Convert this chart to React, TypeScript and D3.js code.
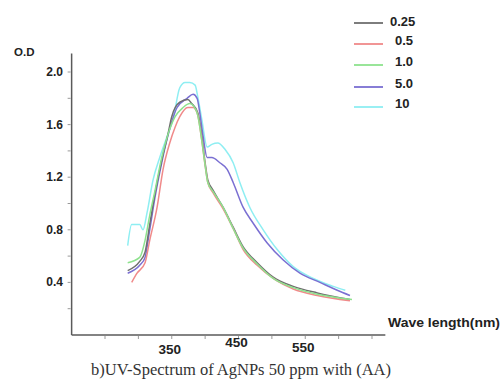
import React from "react";
import * as d3 from "d3";

type Pt = [number, number];

const seriesNames = ["0.25", "0.5", "1.0", "5.0", "10"];
const seriesColors = ["#6f6f6f", "#f08a8a", "#8ee28e", "#7a6fd2", "#8eeef2"];

const s025: Pt[] = [
  [284, 0.49], [302, 0.56], [310, 0.63], [317, 0.84], [325, 1.08], [335, 1.33], [344, 1.52],
  [350, 1.66], [362, 1.77], [374, 1.79], [380, 1.76], [389, 1.69], [395, 1.51], [400, 1.31],
  [404, 1.18], [412, 1.1], [427, 0.97], [442, 0.82], [457, 0.67], [478, 0.55], [502, 0.44],
  [532, 0.37], [568, 0.32], [617, 0.27],
];
const s05: Pt[] = [
  [290, 0.4], [298, 0.47], [310, 0.55], [317, 0.72], [328, 0.97], [337, 1.26], [347, 1.46],
  [355, 1.58], [362, 1.66], [374, 1.73], [382, 1.73], [388, 1.69], [395, 1.48], [400, 1.29],
  [404, 1.16], [412, 1.08], [427, 0.96], [442, 0.81], [457, 0.65], [478, 0.53], [502, 0.43],
  [532, 0.35], [568, 0.3], [617, 0.26],
];
const s10: Pt[] = [
  [284, 0.55], [302, 0.59], [310, 0.72], [317, 0.91], [325, 1.1], [335, 1.35], [344, 1.52],
  [355, 1.66], [367, 1.73], [377, 1.76], [383, 1.74], [389, 1.67], [395, 1.48], [400, 1.29],
  [404, 1.16], [412, 1.09], [427, 0.97], [442, 0.81], [457, 0.66], [478, 0.54], [502, 0.43],
  [532, 0.36], [568, 0.31], [620, 0.27],
];
const s50: Pt[] = [
  [284, 0.47], [302, 0.53], [310, 0.59], [317, 0.8], [325, 1.05], [335, 1.31], [344, 1.51],
  [358, 1.73], [373, 1.8], [382, 1.83], [388, 1.8], [392, 1.69], [397, 1.51], [403, 1.35],
  [410, 1.35], [422, 1.31], [433, 1.26], [442, 1.16], [457, 0.97], [472, 0.85], [493, 0.7],
  [517, 0.57], [542, 0.47], [572, 0.4], [598, 0.34], [617, 0.3],
];
const s100: Pt[] = [
  [284, 0.68], [290, 0.84], [302, 0.84], [307, 0.8], [313, 0.93], [322, 1.18], [332, 1.35],
  [343, 1.51], [352, 1.64], [362, 1.88], [370, 1.92], [377, 1.92], [385, 1.9], [389, 1.81],
  [395, 1.64], [403, 1.43], [410, 1.45], [419, 1.46], [430, 1.41], [442, 1.31], [452, 1.16],
  [467, 0.97], [487, 0.8], [508, 0.65], [532, 0.52], [562, 0.43], [592, 0.37], [610, 0.34],
];

const seriesData = [s025, s05, s10, s50, s100];
const drawOrder = [4, 3, 0, 1, 2];

const yTicks = [0.2, 0.4, 0.6, 0.8, 1.0, 1.2, 1.4, 1.6, 1.8, 2.0];
const yLabels = ["0.4", "0.8", "1.2", "1.6", "2.0"];
const xTicks = [250, 300, 350, 400, 450, 500, 550, 600, 650];
const xLabels = [350, 450, 550];
const xLabelDy = [19, 12, 17];

const W = 501;
const H = 380;

export default function App() {
  const x = d3.scaleLinear().domain([250, 650]).range([105, 372]);
  const y = d3.scaleLinear().domain([0, 2]).range([335, 72]);
  const line = d3
    .line<Pt>()
    .x((d) => x(d[0]))
    .y((d) => y(d[1]))
    .curve(d3.curveMonotoneX);

  const axisColor = "#5a5a5a";
  const bold = { fontFamily: "Arial, 'Liberation Sans', sans-serif", fontWeight: 700 as const };

  return (
    <svg
      width={W}
      height={H}
      style={{ position: "absolute", left: 0, top: 0, background: "#fff" }}
    >
      {/* y axis */}
      <line x1={x(200)} x2={x(200)} y1={y(2.14)} y2={y(0)} stroke={axisColor} strokeWidth={1.5} />
      {yTicks.map((t) => (
        <line key={"yt" + t} x1={x(200) - 4} x2={x(200) - 1} y1={y(t)} y2={y(t)} stroke="#999" strokeWidth={1} />
      ))}
      {yLabels.map((l) => (
        <text key={"yl" + l} x={63} y={y(+l) + 4} textAnchor="end" fontSize={12} fill="#222" style={bold}>
          {l}
        </text>
      ))}
      <text x={14} y={56} fontSize={11.5} fill="#222" style={bold}>
        O.D
      </text>

      {/* x axis */}
      <line x1={x(200)} x2={x(670)} y1={y(0)} y2={y(0)} stroke={axisColor} strokeWidth={1.5} />
      {xTicks.map((t) => (
        <line key={"xt" + t} x1={x(t)} x2={x(t)} y1={y(0) + 1} y2={y(0) + 4} stroke="#999" strokeWidth={1} />
      ))}
      {xLabels.map((l, i) => (
        <text key={"xl" + l} x={x(l) - 2} y={y(0) + xLabelDy[i]} textAnchor="middle" fontSize={13.5} fill="#222" style={bold}>
          {l}
        </text>
      ))}
      <text x={388} y={327} fontSize={13.5} fill="#222" style={bold} textLength={112} lengthAdjust="spacingAndGlyphs">
        Wave length(nm)
      </text>

      {/* series */}
      {drawOrder.map((i) => (
        <path
          key={"s" + i}
          d={line(seriesData[i]) || ""}
          fill="none"
          stroke={seriesColors[i]}
          strokeWidth={1.5}
          strokeLinejoin="round"
        />
      ))}

      {/* legend */}
      {seriesNames.map((n, i) => {
        const ly = [23, 44, 65, 87, 107][i];
        return (
          <g key={"lg" + n}>
            <line x1={354} x2={383} y1={ly} y2={ly} stroke={seriesColors[i]} strokeWidth={1.8} />
            <text x={i === 0 ? 390 : 395} y={ly + 3 + (i === 0 ? 0 : -2)} fontSize={13} fill="#222" style={bold}>
              {n}
            </text>
          </g>
        );
      })}

      {/* caption */}
      <text
        x={241}
        y={375}
        textAnchor="middle"
        fontSize={16.5}
        fill="#333"
        fontFamily="'Liberation Serif', 'Times New Roman', serif"
      >
        b)UV-Spectrum of AgNPs 50 ppm with (AA)
      </text>
    </svg>
  );
}
